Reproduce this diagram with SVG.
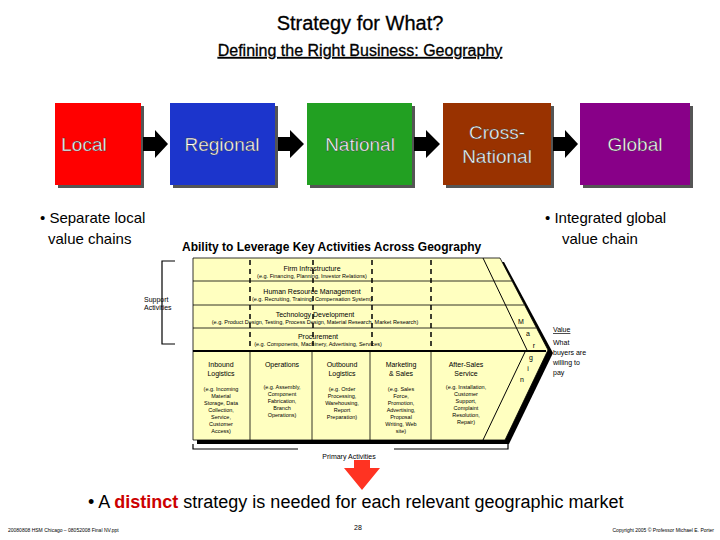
<svg xmlns="http://www.w3.org/2000/svg" width="720" height="540" viewBox="0 0 720 540">
<style>
text{font-family:"Liberation Sans",Arial,sans-serif}
.h{fill:#fff;font-size:19px;text-anchor:middle;stroke:#333;stroke-width:0.4}
.s{font-size:7px;text-anchor:middle}
.t{font-size:5.5px;text-anchor:middle}
.dash{stroke:#000;stroke-width:1.5;stroke-dasharray:5,4}
</style>
<defs>
<filter id="sh"><feDropShadow dx="3" dy="3" stdDeviation="0.5" flood-color="#555"/></filter>
</defs>
<rect width="720" height="540" fill="#fff"/>
<text x="360" y="30" font-size="20" text-anchor="middle" stroke="#000" stroke-width="0.3">Strategy for What?</text>
<text x="360" y="56" font-size="16" text-anchor="middle" text-decoration="underline" stroke="#000" stroke-width="0.3">Defining the Right Business: Geography</text>
<g id="local"><rect x="55" y="103" width="86" height="82" fill="#ff0000" filter="url(#sh)"/><text class="h" x="84" y="151">Local</text></g>
<g id="regional"><rect x="170" y="103" width="105" height="82" fill="#1a35cc" filter="url(#sh)"/><text class="h" x="222" y="151">Regional</text></g>
<g id="national"><rect x="307" y="103" width="105" height="82" fill="#22a020" filter="url(#sh)"/><text class="h" x="360" y="151">National</text></g>
<g id="cross"><rect x="443" y="103" width="108" height="82" fill="#993300" filter="url(#sh)"/><text class="h" x="497" y="139">Cross-</text><text class="h" x="497" y="163">National</text></g>
<g id="global"><rect x="580" y="103" width="110" height="82" fill="#880088" filter="url(#sh)"/><text class="h" x="635" y="151">Global</text></g>
<g id="connectors" fill="#000">
<polygon points="143,137 155,137 155,130 168,144 155,158 155,151 143,151"/>
<polygon points="278,137 290,137 290,130 304,144 290,158 290,151 278,151"/>
<polygon points="414,137 426,137 426,130 440,144 426,158 426,151 414,151"/>
<polygon points="553,137 565,137 565,130 578,144 565,158 565,151 553,151"/>
<polygon points="344,468 354,468 354,460 370,460 370,468 380,468 362,490" fill="#ff3322"/>
</g>
<text x="40" y="223" font-size="15">• Separate local</text>
<text x="48" y="244" font-size="15">value chains</text>
<text x="545" y="223" font-size="15">• Integrated global</text>
<text x="562" y="244" font-size="15">value chain</text>
<text x="182" y="251" font-size="12" font-weight="bold">Ability to Leverage Key Activities Across Geography</text>
<g id="valuechain">
<polygon points="197,262 504,262 553,353 509,444 197,444" fill="#000"/>
<polygon points="193,258 500,258 548,350 505,440 193,440" fill="#ffffc0" stroke="#000" stroke-width="0.8"/>
<line x1="483" y1="258" x2="527" y2="350" stroke="#000"/>
<line x1="525" y1="352" x2="483" y2="440" stroke="#000"/>
<g stroke="#000" stroke-width="0.8">
<line x1="193" y1="281" x2="512" y2="281"/>
<line x1="193" y1="305" x2="524" y2="305"/>
<line x1="193" y1="328" x2="536" y2="328"/>
</g>
<line x1="193" y1="351" x2="546" y2="351" stroke="#000" stroke-width="2"/>
<line class="dash" x1="250" y1="260" x2="250" y2="350"/>
<line class="dash" x1="313" y1="260" x2="313" y2="350"/>
<line class="dash" x1="372" y1="260" x2="372" y2="350"/>
<line class="dash" x1="431" y1="260" x2="431" y2="350"/>
<g stroke="#000" stroke-width="0.8">
<line x1="250" y1="351" x2="250" y2="440"/>
<line x1="312" y1="351" x2="312" y2="440"/>
<line x1="370" y1="351" x2="370" y2="440"/>
<line x1="431" y1="351" x2="431" y2="440"/>
</g>
<text class="s" x="312" y="271">Firm Infrastructure</text>
<text class="t" x="312" y="278">(e.g. Financing, Planning, Investor Relations)</text>
<text class="s" x="312" y="294">Human Resource Management</text>
<text class="t" x="312" y="301">(e.g. Recruiting, Training, Compensation System)</text>
<text class="s" x="315" y="317">Technology Development</text>
<text class="t" x="315" y="324">(e.g. Product Design, Testing, Process Design, Material Research, Market Research)</text>
<text class="s" x="318" y="339">Procurement</text>
<text class="t" x="318" y="346">(e.g. Components, Machinery, Advertising, Services)</text>
<g class="s">
<text x="221" y="367">Inbound</text><text x="221" y="376">Logistics</text>
<text x="282" y="367">Operations</text>
<text x="342" y="367">Outbound</text><text x="342" y="376">Logistics</text>
<text x="401" y="367">Marketing</text><text x="401" y="376">&amp; Sales</text>
<text x="466" y="367">After-Sales</text><text x="466" y="376">Service</text>
</g>
<g class="t">
<text x="221" y="391">(e.g. Incoming</text><text x="221" y="398">Material</text><text x="221" y="405">Storage, Data</text><text x="221" y="412">Collection,</text><text x="221" y="419">Service,</text><text x="221" y="426">Customer</text><text x="221" y="433">Access)</text>
<text x="282" y="389">(e.g. Assembly,</text><text x="282" y="396">Component</text><text x="282" y="403">Fabrication,</text><text x="282" y="410">Branch</text><text x="282" y="417">Operations)</text>
<text x="342" y="391">(e.g. Order</text><text x="342" y="398">Processing,</text><text x="342" y="405">Warehousing,</text><text x="342" y="412">Report</text><text x="342" y="419">Preparation)</text>
<text x="401" y="391">(e.g. Sales</text><text x="401" y="398">Force,</text><text x="401" y="405">Promotion,</text><text x="401" y="412">Advertising,</text><text x="401" y="419">Proposal</text><text x="401" y="426">Writing, Web</text><text x="401" y="433">site)</text>
<text x="466" y="389">(e.g. Installation,</text><text x="466" y="396">Customer</text><text x="466" y="403">Support,</text><text x="466" y="410">Complaint</text><text x="466" y="417">Resolution,</text><text x="466" y="424">Repair)</text>
</g>
<g class="s"><text x="521" y="324">M</text><text x="528" y="336">a</text><text x="534" y="348">r</text><text x="531" y="360">g</text><text x="528" y="371">i</text><text x="522" y="382">n</text></g>
</g>
<g fill="none" stroke="#000" stroke-width="1.2">
<polyline points="175,261 162,261 162,344 175,344"/>
<polyline points="193,444 193,449 298,449"/>
<polyline points="394,449 508,449 508,444"/>
</g>
<text x="144" y="302" font-size="7">Support</text>
<text x="144" y="310" font-size="7">Activities</text>
<text x="349" y="459" class="s">Primary Activities</text>
<text x="553" y="332" font-size="7" text-decoration="underline">Value</text>
<g font-size="7"><text x="553" y="345">What</text><text x="553" y="355">buyers are</text><text x="553" y="365">willing to</text><text x="553" y="375">pay</text></g>
<text x="88" y="508" font-size="18">•  A <tspan fill="#cc0000" font-weight="bold">distinct</tspan> strategy is needed for each relevant geographic market</text>
<text x="8" y="532" font-size="5">20080808 HSM Chicago – 08052008 Final NV.ppt</text>
<text x="358" y="530" font-size="7" text-anchor="middle">28</text>
<text x="714" y="532" font-size="5" text-anchor="end">Copyright 2005 © Professor Michael E. Porter</text>
</svg>
